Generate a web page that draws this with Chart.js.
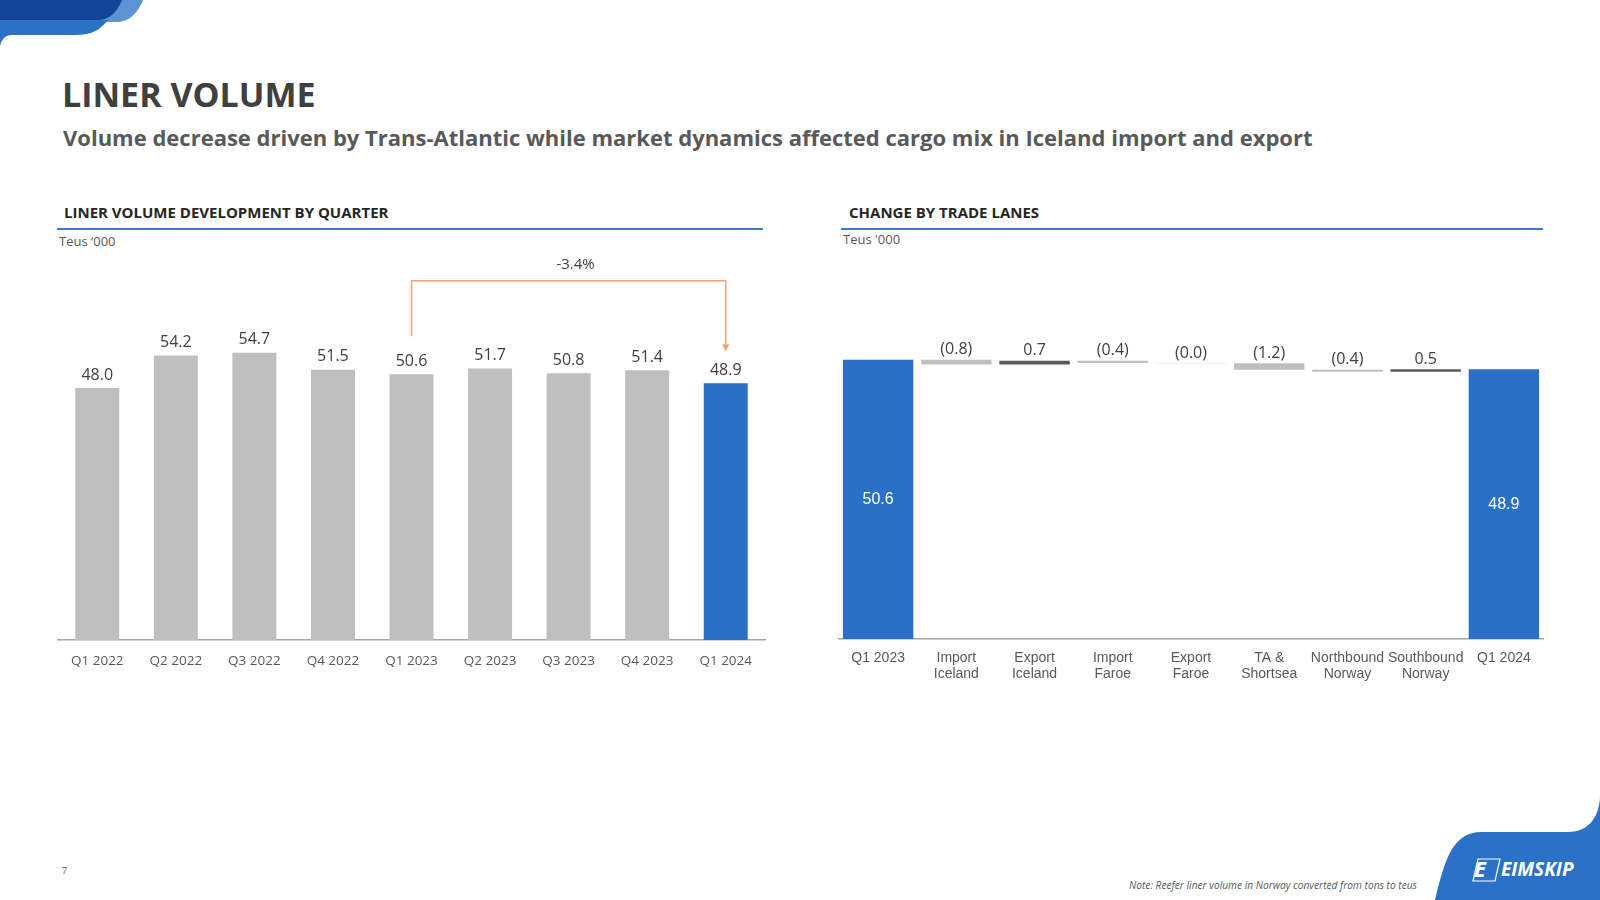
<!DOCTYPE html>
<html>
<head>
<meta charset="utf-8">
<title>Liner volume</title>
<script src="https://cdn.jsdelivr.net/npm/chart.js@4.4.1/dist/chart.umd.min.js"></script>
<style>
    html, body { margin: 0; padding: 0; }
    body { width: 1600px; height: 900px; position: relative; overflow: hidden; background: #fff; font-family: 'Open Sans', sans-serif; }
    .abs { position: absolute; white-space: nowrap; line-height: 1; }
    #deco { position: absolute; left: 0; top: 0; }
    #title { left: 62px; top: 77px; font-size: 34px; font-weight: 700; color: #404040; }
    #subtitle { left: 63px; top: 126px; font-size: 22px; font-weight: 700; color: #595959; }
    .section { font-size: 15px; font-weight: 700; color: #262626; top: 205px; }
    .rule { position: absolute; height: 2px; background: #3A7CCF; top: 228px; }
    .unit { font-size: 13px; color: #595959; top: 235px; }
    #pageNo { left: 62px; top: 866px; font-size: 9px; color: #595959; }
    #note { right: 183px; top: 880px; font-size: 10.2px; font-style: italic; color: #595959; }
    canvas { position: absolute; }
</style>
</head>
<body>
<svg id="deco" width="1600" height="900" viewBox="0 0 1600 900">
    <path d="M0,0 H143 C138,12 130,22 116,22 H0 Z" fill="#5B93D3"/>
    <path d="M0,0 H122 C117,12 110,20 98,20 H0 Z" fill="#13449A"/>
    <path d="M0,20 H108 C100,30 92,35 75,35 H12 C5,35 2,39 0,46 Z" fill="#2A72C8"/>
    <path d="M1435,900 C1445,860 1452,832 1482,832 H1568 C1590,832 1600,815 1600,795 V900 Z" fill="#2A72C8"/>
    <path d="M1478,859 H1500 L1495,881 H1473 Z" fill="none" stroke="#fff" stroke-width="1.2"/>
    <text x="1474" y="877" font-family="Open Sans" font-weight="700" font-style="italic" font-size="22" fill="#fff">E</text>
    <text x="1501" y="876" font-family="Open Sans" font-weight="700" font-style="italic" font-size="19" fill="#fff">EIMSKIP</text>
</svg>

<div class="abs" id="title">LINER VOLUME</div>
<div class="abs" id="subtitle">Volume decrease driven by Trans-Atlantic while market dynamics affected cargo mix in Iceland import and export</div>

<div class="abs section" style="left:64px">LINER VOLUME DEVELOPMENT BY QUARTER</div>
<div class="rule" style="left:57px; width:706px"></div>
<div class="abs unit" style="left:59px">Teus ‘000</div>

<div class="abs section" style="left:849px">CHANGE BY TRADE LANES</div>
<div class="rule" style="left:841px; width:702px"></div>
<div class="abs unit" style="left:843px; top:233px">Teus '000</div>

<canvas id="quarterChart" width="740" height="460" style="left:40px; top:240px"></canvas>
<canvas id="laneChart" width="760" height="460" style="left:820px; top:240px"></canvas>

<div class="abs" id="pageNo">7</div>
<div class="abs" id="note">Note: Reefer liner volume in Norway converted from tons to teus</div>

<script>
// liner volume by quarter, teus '000
const quarters = ['Q1 2022', 'Q2 2022', 'Q3 2022', 'Q4 2022', 'Q1 2023', 'Q2 2023', 'Q3 2023', 'Q4 2023', 'Q1 2024'];
const volumes = [48.0, 54.2, 54.7, 51.5, 50.6, 51.7, 50.8, 51.4, 48.9];
const changeLabel = '-3.4%';

// change by trade lanes, teus '000
const lanes = [['Q1 2023'], ['Import', 'Iceland'], ['Export', 'Iceland'], ['Import', 'Faroe'], ['Export', 'Faroe'],
    ['TA &', 'Shortsea'], ['Northbound', 'Norway'], ['Southbound', 'Norway'], ['Q1 2024']];
const startVolume = 50.62;
const laneChanges = [-0.84, 0.67, -0.42, -0.04, -1.18, -0.38, 0.46];
const endVolume = 48.89;

const BLUE = '#2970C6';
const LIGHT = '#BFBFBF';
const DARK = '#595959';

function baseOptions(padding, axisHeight, tickFont, tickPadding) {
    return {
        responsive: false,
        animation: false,
        events: [],
        layout: { padding: padding },
        plugins: { legend: { display: false }, tooltip: { enabled: false } },
        scales: {
            x: {
                grid: { display: false, drawTicks: false },
                border: { color: '#A6A6A6', width: 1.5 },
                ticks: { color: '#595959', font: tickFont, padding: tickPadding, maxRotation: 0, autoSkip: false },
                afterFit: s => { s.height = axisHeight; }
            },
            y: { display: false, min: 0, max: 60 }
        }
    };
}

new Chart(document.getElementById('quarterChart'), {
    type: 'bar',
    data: {
        labels: quarters,
        datasets: [{
            data: volumes,
            backgroundColor: volumes.map((v, i) => i === volumes.length - 1 ? BLUE : LIGHT),
            categoryPercentage: 1,
            barPercentage: 0.56
        }]
    },
    options: baseOptions({ left: 18, right: 15, top: 85, bottom: 20 }, 40,
        { family: 'Open Sans', size: 13.5 }, 13),
    plugins: [{
        id: 'quarterLabels',
        afterDatasetsDraw(chart) {
            const ctx = chart.ctx;
            const bars = chart.getDatasetMeta(0).data;
            ctx.save();
            ctx.textAlign = 'center';
            ctx.textBaseline = 'middle';
            ctx.font = '16px "Open Sans"';
            ctx.fillStyle = '#404040';
            bars.forEach((bar, i) => ctx.fillText(volumes[i].toFixed(1), bar.x, bar.y - 13));

            // bracket Q1 2023 -> Q1 2024
            const from = bars[quarters.indexOf('Q1 2023')];
            const to = bars[bars.length - 1];
            const lineY = Math.min(...bars.map(b => b.y)) - 72;
            ctx.strokeStyle = '#F4A47C';
            ctx.fillStyle = '#F4A47C';
            ctx.lineWidth = 1.5;
            ctx.beginPath();
            ctx.moveTo(from.x, from.y - 38);
            ctx.lineTo(from.x, lineY);
            ctx.lineTo(to.x, lineY);
            ctx.lineTo(to.x, to.y - 38);
            ctx.stroke();
            ctx.beginPath();
            ctx.moveTo(to.x - 3.5, to.y - 39);
            ctx.lineTo(to.x + 3.5, to.y - 39);
            ctx.lineTo(to.x, to.y - 32);
            ctx.fill();

            ctx.font = '15px "Open Sans"';
            ctx.fillStyle = '#404040';
            ctx.fillText(changeLabel, (from.x + to.x) / 2 + 7, lineY - 16);
            ctx.restore();
        }
    }]
});

// waterfall: totals from zero, changes float on the running level
const laneBars = [[0, startVolume]];
let level = startVolume;
laneChanges.forEach(c => {
    laneBars.push([level, level + c]);
    level += c;
});
laneBars.push([0, endVolume]);

const laneColors = [BLUE].concat(laneChanges.map(c => c < 0 ? LIGHT : DARK), [BLUE]);

new Chart(document.getElementById('laneChart'), {
    type: 'bar',
    data: {
        labels: lanes,
        datasets: [{
            data: laneBars,
            backgroundColor: laneColors,
            categoryPercentage: 1,
            barPercentage: 0.9
        }]
    },
    options: baseOptions({ left: 19, right: 37, top: 68, bottom: 11 }, 50,
        { family: 'Liberation Sans', size: 14, lineHeight: 1.15 }, 11),
    plugins: [{
        id: 'laneLabels',
        afterDatasetsDraw(chart) {
            const ctx = chart.ctx;
            const bars = chart.getDatasetMeta(0).data;
            ctx.save();
            ctx.textAlign = 'center';
            ctx.textBaseline = 'middle';
            bars.forEach((bar, i) => {
                if (i === 0 || i === bars.length - 1) {
                    const v = i === 0 ? startVolume : endVolume;
                    ctx.font = '16px "Liberation Sans"';
                    ctx.fillStyle = '#fff';
                    ctx.fillText(v.toFixed(1), bar.x, (bar.y + bar.base) / 2);
                } else {
                    const c = laneChanges[i - 1];
                    const text = c < 0 ? '(' + Math.abs(c).toFixed(1) + ')' : c.toFixed(1);
                    ctx.font = '16px "Open Sans"';
                    ctx.fillStyle = '#404040';
                    ctx.fillText(text, bar.x, Math.min(bar.y, bar.base) - 10);
                }
            });
            ctx.restore();
        }
    }]
});
</script>
</body>
</html>
